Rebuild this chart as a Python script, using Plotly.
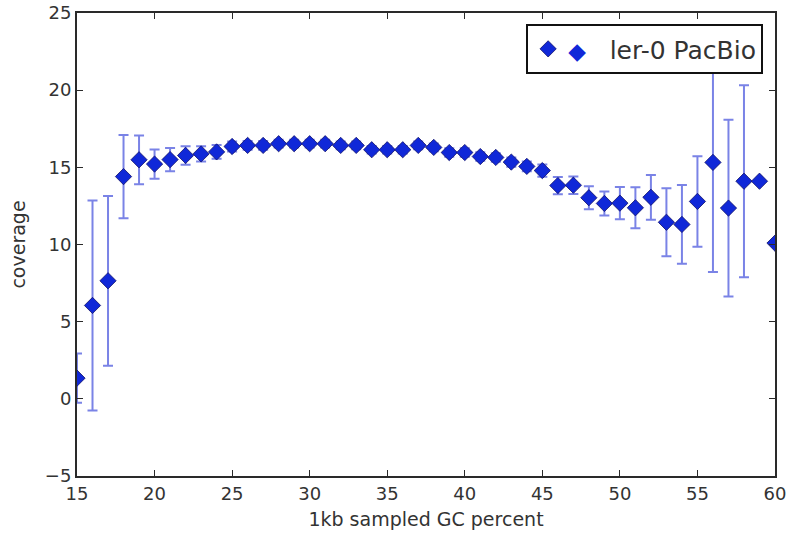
import plotly.graph_objects as go

gc_percent = list(range(15, 61))
coverage = [1.34, 6.05, 7.65, 14.4, 15.49, 15.21, 15.5, 15.77, 15.87, 16.0, 16.35,
            16.42, 16.42, 16.53, 16.53, 16.53, 16.53, 16.42, 16.42, 16.14, 16.14,
            16.14, 16.42, 16.29, 15.96, 15.96, 15.70, 15.64, 15.34, 15.06, 14.79,
            13.82, 13.84, 13.03, 12.66, 12.68, 12.38, 13.06, 11.44, 11.3, 12.79,
            15.32, 12.36, 14.1, 14.1, 10.09]
coverage_err = [1.6, 6.8, 5.5, 2.7, 1.58, 0.95, 0.76, 0.6, 0.5, 0.45, 0.32,
                0.28, 0.28, 0.25, 0.25, 0.25, 0.25, 0.25, 0.25, 0.25, 0.25,
                0.25, 0.25, 0.25, 0.28, 0.28, 0.28, 0.28, 0.3, 0.32, 0.4,
                0.56, 0.56, 0.74, 0.78, 1.05, 1.33, 1.45, 2.2, 2.55, 2.93,
                7.1, 5.73, 6.22, 0.0, 0.0]

x_ticks = [15, 20, 25, 30, 35, 40, 45, 50, 55, 60]
y_ticks = [-5, 0, 5, 10, 15, 20, 25]

blue = "#1028d8"

fig = go.Figure()
fig.add_trace(go.Scatter(
    x=gc_percent, y=coverage, mode="markers",
    name='<span style="color:#1028d8;font-size:23px">\u25c6</span>   ler-0 PacBio',
    marker=dict(symbol="diamond", size=12.5, color=blue,
                line=dict(color="#10106a", width=0.8)),
    error_y=dict(type="data", array=coverage_err, visible=True,
                 color="rgba(40,55,215,0.62)", thickness=2, width=5),
))

axis_common = dict(
    showline=True, linecolor="#2a2a2a", linewidth=2, mirror="ticks",
    ticks="inside", ticklen=6, tickwidth=1, tickcolor="#2a2a2a",
    showgrid=False, zeroline=False, automargin=False,
    tickfont=dict(family="DejaVu Sans", size=18, color="#333333"),
)

fig.update_xaxes(range=[15, 60], tickvals=x_ticks,
                 title=dict(text="1kb sampled GC percent", standoff=10,
                            font=dict(family="DejaVu Sans", size=19, color="#333333")),
                 **axis_common)
fig.update_yaxes(range=[-5, 25], tickvals=y_ticks,
                 title=dict(text="coverage", standoff=14,
                            font=dict(family="DejaVu Sans", size=19, color="#333333")),
                 **axis_common)

fig.update_layout(
    width=791, height=539,
    margin=dict(l=77, r=16, t=13, b=63),
    paper_bgcolor="white", plot_bgcolor="white",
    showlegend=True,
    legend=dict(x=0.983, y=0.976, xanchor="right", yanchor="top",
                bgcolor="white", bordercolor="#111111", borderwidth=2,
                itemwidth=30,
                font=dict(family="DejaVu Sans", size=25, color="#333333")),
)

fig.write_html("out.html")
